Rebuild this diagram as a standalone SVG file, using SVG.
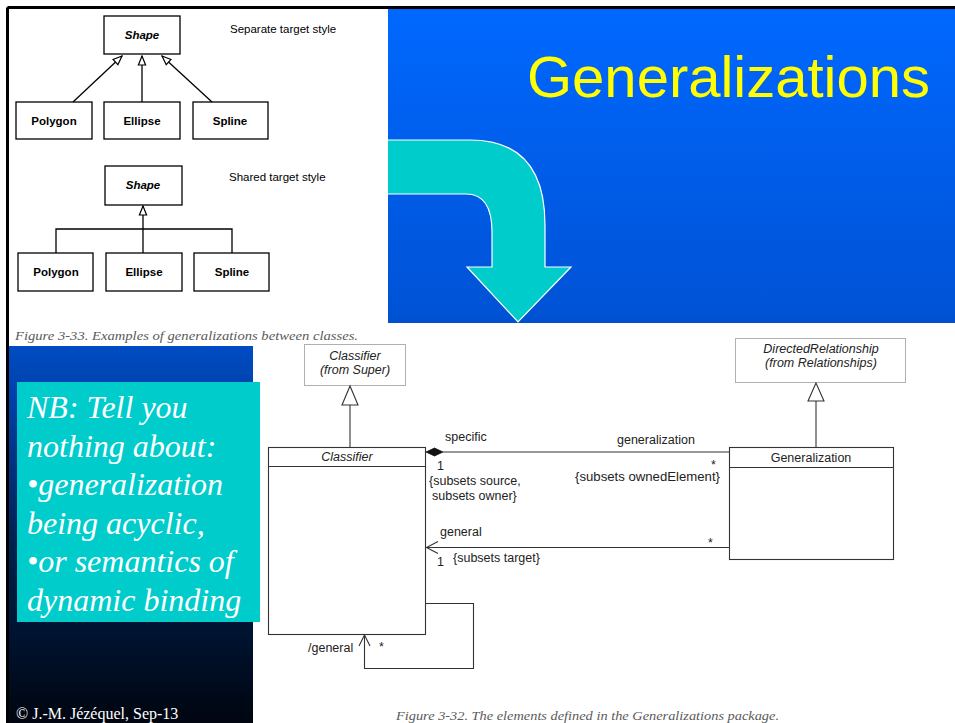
<svg xmlns="http://www.w3.org/2000/svg" width="955" height="723" viewBox="0 0 955 723">
  <style>
    .sans { font-family: "Liberation Sans", Arial, sans-serif; }
    .serif { font-family: "Liberation Serif", "Times New Roman", serif; }
    .box { fill: #ffffff; stroke: #000000; stroke-width: 1.3; }
    .lbl { font-family: "Liberation Sans", Arial, sans-serif; font-size: 11.5px; font-weight: bold; fill: #000; text-anchor: middle; }
    .edge { fill: none; stroke: #000; stroke-width: 1.3; }
    .uml { fill: #ffffff; stroke: #333333; stroke-width: 1.1; }
    .pkg { fill: #ffffff; stroke: #b0b0b0; stroke-width: 1; }
    .uline { fill: none; stroke: #333333; stroke-width: 1.1; }
    .ut { font-family: "Liberation Sans", Arial, sans-serif; font-size: 12.5px; fill: #222; }
    .cap { font-family: "Liberation Serif", "Times New Roman", serif; font-style: italic; font-size: 13px; fill: #5a5a5a; }
    .nb { font-family: "Liberation Serif", "Times New Roman", serif; font-style: italic; font-size: 32px; fill: #ffffff; }
  </style>
  <defs>
    <linearGradient id="bg" x1="0" y1="9" x2="0" y2="723" gradientUnits="userSpaceOnUse">
      <stop offset="0" stop-color="#0068ff"/>
      <stop offset="0.42" stop-color="#0053d6"/>
      <stop offset="0.52" stop-color="#0045b2"/>
      <stop offset="0.75" stop-color="#00214f"/>
      <stop offset="1" stop-color="#000510"/>
    </linearGradient>
    <marker id="hollow" viewBox="-10 -5 11 10" markerWidth="11" markerHeight="10" refX="0" refY="0" orient="auto" markerUnits="userSpaceOnUse">
      <path d="M0,0 L-9,-3.6 L-9,3.6 Z" fill="#ffffff" stroke="#000" stroke-width="1.2"/>
    </marker>
  </defs>

  <!-- page and slide background -->
  <rect x="0" y="0" width="955" height="723" fill="#ffffff"/>
  <rect x="7" y="7" width="948" height="716" fill="url(#bg)"/>
  <line x1="7.5" y1="7.5" x2="955" y2="7.5" stroke="#000" stroke-width="3"/>
  <line x1="7.5" y1="7.5" x2="7.5" y2="723" stroke="#000" stroke-width="3"/>

  <!-- curved arrow -->
  <path id="bend-arrow" d="M380,140 L470,140 Q545,140 545,225 L545,267 L571,267 L518,322 L467,267 L492,267 L492,232 Q492,194 466,194 L380,194 Z" fill="#00cccc" stroke="#ffffff" stroke-width="1.2"/>

  <!-- white figure panels -->
  <rect x="9" y="9" width="379" height="337" fill="#ffffff"/>
  <rect x="253" y="323" width="702" height="400" fill="#ffffff"/>

  <!-- title -->
  <text x="527" y="97" class="sans" font-size="58" fill="#ffff00">Generalizations</text>

  <!-- separate target style -->
  <g id="shape-a">
    <rect class="box" x="104" y="16" width="76" height="38"/>
    <text class="lbl" x="142" y="39" font-style="italic">Shape</text>
  </g>
  <text class="sans" x="230" y="33" font-size="11.5" fill="#000">Separate target style</text>
  <g id="polygon-a">
    <rect class="box" x="16" y="102" width="76" height="37"/>
    <text class="lbl" x="54" y="125">Polygon</text>
  </g>
  <g id="ellipse-a">
    <rect class="box" x="104" y="102" width="76" height="37"/>
    <text class="lbl" x="142" y="125">Ellipse</text>
  </g>
  <g id="spline-a">
    <rect class="box" x="193" y="102" width="75" height="37"/>
    <text class="lbl" x="230" y="125">Spline</text>
  </g>
  <g id="edges-a">
    <line class="edge" x1="73" y1="102" x2="122" y2="56" marker-end="url(#hollow)"/>
    <line class="edge" x1="142" y1="102" x2="142" y2="56" marker-end="url(#hollow)"/>
    <line class="edge" x1="212" y1="102" x2="162" y2="56" marker-end="url(#hollow)"/>
  </g>

  <!-- shared target style -->
  <g id="shape-b">
    <rect class="box" x="105" y="166" width="77" height="39"/>
    <text class="lbl" x="143" y="189" font-style="italic">Shape</text>
  </g>
  <text class="sans" x="229" y="181" font-size="11.5" fill="#000">Shared target style</text>
  <g id="polygon-b">
    <rect class="box" x="18" y="253" width="75" height="38"/>
    <text class="lbl" x="56" y="276">Polygon</text>
  </g>
  <g id="ellipse-b">
    <rect class="box" x="106" y="253" width="76" height="38"/>
    <text class="lbl" x="144" y="276">Ellipse</text>
  </g>
  <g id="spline-b">
    <rect class="box" x="194" y="253" width="75" height="38"/>
    <text class="lbl" x="232" y="276">Spline</text>
  </g>
  <g id="edges-b">
    <polyline class="edge" points="56,253 56,229 232,229 232,253"/>
    <line class="edge" x1="143" y1="253" x2="143" y2="206" marker-end="url(#hollow)"/>
  </g>

  <text class="cap" x="15" y="340" textLength="343" lengthAdjust="spacingAndGlyphs">Figure 3-33. Examples of generalizations between classes.</text>

  <!-- metamodel: generalizations package -->
  <g id="classifier-super">
    <rect class="pkg" x="304.5" y="344.5" width="101" height="41"/>
    <text class="ut" x="355" y="360" font-style="italic" text-anchor="middle" font-size="12">Classifier</text>
    <text class="ut" x="355" y="374" font-style="italic" text-anchor="middle" font-size="8">(from Super)</text>
  </g>
  <g id="directed-relationship">
    <rect class="pkg" x="735.5" y="338.5" width="170" height="44"/>
    <text class="ut" x="821" y="353" font-style="italic" text-anchor="middle" font-size="12">DirectedRelationship</text>
    <text class="ut" x="821" y="367" font-style="italic" text-anchor="middle" font-size="8">(from Relationships)</text>
  </g>
  <g id="classifier">
    <rect class="uml" x="268.5" y="447.5" width="157" height="187"/>
    <line class="uline" x1="268.5" y1="466.5" x2="425.5" y2="466.5"/>
    <text class="ut" x="347" y="461" font-style="italic" text-anchor="middle" font-size="12.5">Classifier</text>
  </g>
  <g id="generalization">
    <rect class="uml" x="729.5" y="447.5" width="164" height="112"/>
    <line class="uline" x1="729.5" y1="467.5" x2="893.5" y2="467.5"/>
    <text class="ut" x="811" y="462" text-anchor="middle" font-size="12.5">Generalization</text>
  </g>

  <g id="connectors">
    <!-- inheritance -->
    <line class="uline" x1="350" y1="405" x2="350" y2="447"/>
    <polygon class="uml" points="350,386 342,405 358,405"/>
    <line class="uline" x1="816" y1="401" x2="816" y2="447"/>
    <polygon class="uml" points="816,383 808,401 824,401"/>
    <!-- specific / generalization composition -->
    <line class="uline" x1="443" y1="452" x2="729" y2="452"/>
    <polygon points="426,452 434.5,448 443,452 434.5,456" fill="#111" stroke="#111" stroke-width="0.8"/>
    <!-- general association -->
    <line class="uline" x1="426" y1="547.5" x2="729" y2="547.5"/>
    <polyline class="uline" points="438,541.5 426.5,547.5 438,553.5"/>
    <!-- derived /general self association -->
    <polyline class="uline" points="426,603.5 473.5,603.5 473.5,668.5 364.5,668.5 364.5,635"/>
    <polyline class="uline" points="359,646 364.5,635 370,646"/>
  </g>

  <g id="end-labels">
    <text class="ut" x="445" y="441">specific</text>
    <text class="ut" x="617" y="444">generalization</text>
    <text class="ut" x="437" y="470">1</text>
    <text class="ut" x="429" y="485">{subsets source,</text>
    <text class="ut" x="432" y="500">subsets owner}</text>
    <text class="ut" x="711" y="469">*</text>
    <text class="ut" x="575" y="481" textLength="145" lengthAdjust="spacingAndGlyphs">{subsets ownedElement}</text>
    <text class="ut" x="440" y="536">general</text>
    <text class="ut" x="708" y="547" fill="#888">*</text>
    <text class="ut" x="437" y="566">1</text>
    <text class="ut" x="453" y="562">{subsets target}</text>
    <text class="ut" x="308" y="652">/general</text>
    <text class="ut" x="379" y="651">*</text>
  </g>

  <text class="cap" x="396" y="720" textLength="383" lengthAdjust="spacingAndGlyphs">Figure 3-32. The elements defined in the Generalizations package.</text>

  <!-- note -->
  <g id="note">
    <rect x="17" y="382" width="243" height="240" fill="#00cccc"/>
    <text class="nb" x="27" y="418">NB: Tell you</text>
    <text class="nb" x="27" y="457">nothing about:</text>
    <text class="nb" x="27" y="495">•generalization</text>
    <text class="nb" x="27" y="534">being acyclic,</text>
    <text class="nb" x="27" y="572">•or semantics of</text>
    <text class="nb" x="27" y="611">dynamic binding</text>
  </g>

  <text class="serif" x="16" y="719" font-size="16" fill="#ffffff">© J.-M. Jézéquel, Sep-13</text>
</svg>
